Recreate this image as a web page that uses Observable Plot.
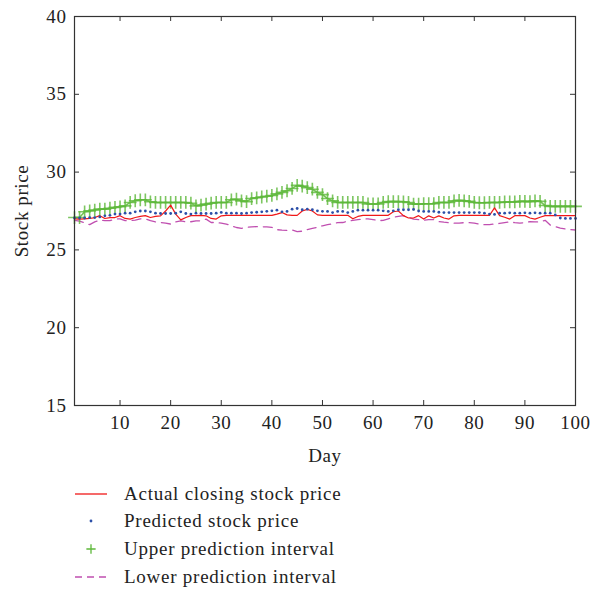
<!DOCTYPE html>
<html>
<head>
<meta charset="utf-8">
<script src="https://cdn.jsdelivr.net/npm/d3@7"></script>
<script src="https://cdn.jsdelivr.net/npm/@observablehq/plot@0.6"></script>
<style>
  body { margin: 0; background: #fff; font-family: "Liberation Serif", "DejaVu Serif", serif; }
  #legend { position: relative; height: 125px; }
  .row { position: absolute; left: 0; height: 24px; display: flex; align-items: center; white-space: nowrap; }
  .row svg { margin-left: 73px; }
  .row span { margin-left: 15px; font-size: 19px; letter-spacing: 0.75px; color: #222; }
</style>
</head>
<body>
<div id="chart"></div>
<div id="legend"></div>
<script>
const actual = [
  27.0, 26.98, 27.0, 27.02, 27.08, 27.2, 27.02, 27.08, 27.08, 27.2,
  27.02, 26.98, 27.08, 27.15, 27.2, 27.08, 27.15, 27.19, 27.5, 27.88,
  27.3, 26.93, 27.08, 27.2, 27.2, 27.22, 27.19, 27.02, 26.98, 27.19,
  27.22, 27.22, 27.22, 27.22, 27.22, 27.22, 27.22, 27.22, 27.22, 27.22,
  27.3, 27.4, 27.25, 27.22, 27.22, 27.5, 27.6, 27.5, 27.25, 27.22,
  27.22, 27.22, 27.22, 27.22, 27.22, 27.0, 27.15, 27.22, 27.22, 27.22,
  27.22, 27.22, 27.22, 27.45, 27.5, 27.2, 27.05, 27.05, 27.2, 26.98,
  27.19, 27.05, 27.19, 27.05, 26.98, 27.19, 27.22, 27.22, 27.22, 27.22,
  27.22, 27.22, 27.22, 27.7, 27.2, 27.1, 26.98, 27.2, 27.2, 27.2,
  27.05, 26.98, 27.1, 27.2, 27.2, 27.2, 27.2, 27.2, 27.2, 27.2
];
const predicted = [
  27.05, 27.05, 27.05, 27.08, 27.08, 27.12, 27.19, 27.22, 27.3, 27.3,
  27.36, 27.36, 27.45, 27.5, 27.5, 27.45, 27.36, 27.34, 27.34, 27.34,
  27.36, 27.45, 27.34, 27.3, 27.36, 27.34, 27.34, 27.34, 27.36, 27.41,
  27.36, 27.36, 27.36, 27.34, 27.36, 27.4, 27.42, 27.45, 27.48, 27.51,
  27.55, 27.45, 27.47, 27.62, 27.66, 27.58, 27.62, 27.58, 27.51, 27.48,
  27.47, 27.4, 27.47, 27.47, 27.4, 27.47, 27.55, 27.55, 27.55, 27.55,
  27.55, 27.51, 27.47, 27.51, 27.58, 27.58, 27.58, 27.6, 27.5, 27.47,
  27.47, 27.47, 27.42, 27.4, 27.4, 27.4, 27.4, 27.4, 27.4, 27.4,
  27.4, 27.36, 27.3, 27.28, 27.36, 27.36, 27.38, 27.36, 27.36, 27.38,
  27.36, 27.38, 27.36, 27.36, 27.36, 27.25, 27.05, 27.02, 27.02, 27.02
];
const upper = [
  27.08, 27.08, 27.45, 27.51, 27.56, 27.62, 27.62, 27.68, 27.73, 27.77,
  27.83, 28.05, 28.16, 28.22, 28.22, 28.09, 28.05, 28.05, 28.05, 28.05,
  28.05, 28.05, 28.05, 28.0, 27.83, 27.88, 27.94, 28.0, 28.05, 28.05,
  28.05, 28.22, 28.26, 28.15, 28.1, 28.3, 28.35, 28.4, 28.45, 28.5,
  28.6, 28.7, 28.8, 28.95, 29.15, 29.1, 29.0, 28.9, 28.7, 28.55,
  28.3, 28.15, 28.05, 28.05, 28.05, 28.05, 28.05, 28.05, 27.95, 27.95,
  27.95, 28.05, 28.1, 28.1, 28.1, 28.09, 28.05, 27.94, 27.94, 27.97,
  27.97, 27.97, 28.05, 28.05, 28.05, 28.15, 28.18, 28.15, 28.12, 28.05,
  28.03, 28.03, 28.05, 28.05, 28.05, 28.08, 28.08, 28.08, 28.12, 28.12,
  28.1, 28.15, 28.12, 27.85, 27.8, 27.8, 27.8, 27.8, 27.8, 27.8
];
const lower = [
  26.9, 26.85, 26.75, 26.62, 26.8, 26.92, 26.88, 26.88, 26.98, 27.0,
  26.88, 26.88, 26.92, 27.0, 27.0, 26.88, 26.8, 26.76, 26.72, 26.66,
  26.8, 26.87, 26.81, 26.81, 26.87, 26.87, 26.98, 26.76, 26.76, 26.72,
  26.66, 26.55, 26.44, 26.38, 26.45, 26.48, 26.5, 26.48, 26.48, 26.45,
  26.3, 26.27, 26.25, 26.28, 26.18, 26.2, 26.3, 26.38, 26.45, 26.55,
  26.62, 26.68, 26.75, 26.76, 26.85, 26.9, 26.95, 26.98, 27.0, 26.95,
  26.88, 26.9, 27.0, 27.1, 27.15, 27.2, 27.1, 26.98, 26.95, 26.9,
  26.95, 26.95, 26.82, 26.78, 26.75, 26.72, 26.72, 26.75, 26.75, 26.72,
  26.65, 26.62, 26.62, 26.68, 26.7, 26.75, 26.8, 26.75, 26.72, 26.76,
  26.82, 26.8, 26.8, 26.9, 26.6, 26.5, 26.4, 26.35, 26.3, 26.28
];
const yTicks = [15, 20, 25, 30, 35, 40];
const xTicks = [10, 20, 30, 40, 50, 60, 70, 80, 90, 100];
const seriesNames = ["Actual closing stock price", "Predicted stock price", "Upper prediction interval", "Lower prediction interval"];

const days = d3.range(1, 101);
const rows = (arr) => days.map((d, i) => ({day: d, value: arr[i]}));
const A = rows(actual), P = rows(predicted), U = rows(upper), L = rows(lower);

const W = 597, H = 470;
const ml = 74, mr = 22, mt = 16, mb = 65;
const innerW = W - ml - mr, innerH = H - mt - mb;
const tickLen = 5;

const chart = Plot.plot({
  width: W, height: H,
  marginLeft: ml, marginRight: mr, marginTop: mt, marginBottom: mb,
  style: {fontFamily: "Liberation Serif, DejaVu Serif, serif", fontSize: "19px", color: "#222", background: "#fff", letterSpacing: "0.6px"},
  x: {domain: [1, 100]},
  y: {domain: [15, 40]},
  marks: [
    Plot.axisY({ticks: yTicks, tickSize: 0, tickPadding: 8, fontSize: 19, label: "Stock price", labelAnchor: "center", labelArrow: "none", labelOffset: 60}),
    Plot.axisX({ticks: xTicks, tickSize: 0, tickPadding: 10, fontSize: 19, label: "Day", labelAnchor: "center", labelArrow: "none", labelOffset: 56}),
    Plot.tickY(yTicks, {y: d => d, insetRight: innerW - tickLen, stroke: "#333"}),
    Plot.tickY(yTicks, {y: d => d, insetLeft: innerW - tickLen, stroke: "#333"}),
    Plot.tickX(xTicks, {x: d => d, insetTop: innerH - tickLen, stroke: "#333"}),
    Plot.tickX(xTicks, {x: d => d, insetBottom: innerH - tickLen, stroke: "#333"}),
    Plot.lineY(L, {x: "day", y: "value", stroke: "#c04fb0", strokeWidth: 1.3, strokeDasharray: "9,6"}),
    Plot.lineY(U, {x: "day", y: "value", stroke: "#5db83a", strokeWidth: 1.6, strokeOpacity: 0.85}),
    Plot.dot(U, {x: "day", y: "value", symbol: "plus", r: 4.2, stroke: "#5db83a", strokeWidth: 1.6, strokeOpacity: 0.8}),
    Plot.lineY(A, {x: "day", y: "value", stroke: "#f01818", strokeWidth: 1.2}),
    Plot.dot(P, {x: "day", y: "value", r: 1.4, fill: "#2c4fa8", stroke: "none"}),
    Plot.frame({stroke: "#333", strokeWidth: 1.2})
  ]
});
document.getElementById("chart").appendChild(chart);

// Legend
const legend = d3.select("#legend");
const ys = [24, 51, 79, 107];
const swatches = [
  s => s.append("line").attr("x1", 2).attr("x2", 34).attr("y1", 12).attr("y2", 12).attr("stroke", "#f01818").attr("stroke-width", 1.3),
  s => s.append("circle").attr("cx", 18).attr("cy", 12).attr("r", 1.4).attr("fill", "#2c4fa8"),
  s => s.append("path").attr("d", d3.symbol(d3.symbolPlus, 30)()).attr("transform", "translate(18,12)").attr("fill", "none").attr("stroke", "#5db83a").attr("stroke-width", 1.3),
  s => s.append("line").attr("x1", 2).attr("x2", 34).attr("y1", 12).attr("y2", 12).attr("stroke", "#c04fb0").attr("stroke-width", 1.3).attr("stroke-dasharray", "7,5")
];
seriesNames.forEach((name, i) => {
  const row = legend.append("div").attr("class", "row").style("top", (ys[i] - 12) + "px");
  const s = row.append("svg").attr("width", 36).attr("height", 24);
  swatches[i](s);
  row.append("span").text(name);
});
</script>
</body>
</html>
